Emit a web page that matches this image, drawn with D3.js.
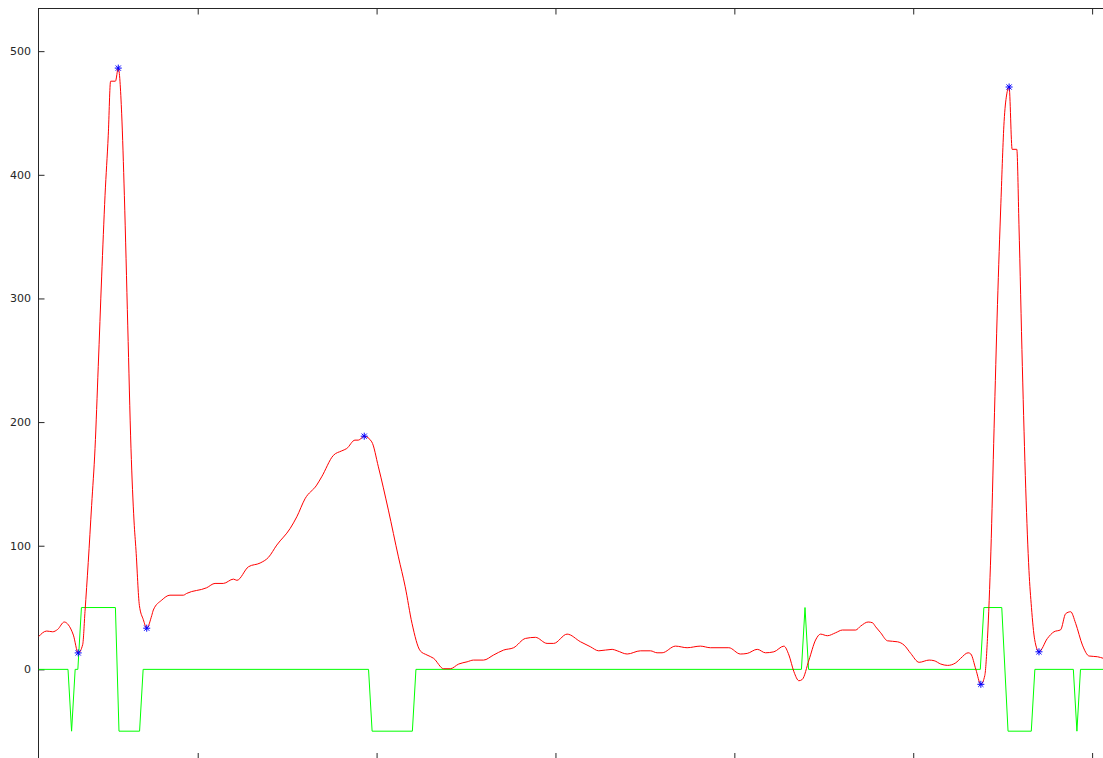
<!DOCTYPE html>
<html>
<head>
<meta charset="utf-8">
<script src="https://cdn.jsdelivr.net/npm/d3@7"></script>
<style>
  html, body { margin: 0; padding: 0; background: #ffffff; }
  svg { display: block; }
  .tick text { font-family: "DejaVu Sans", sans-serif; font-size: 11px; fill: #262626; }
</style>
</head>
<body>
<svg id="chart" width="1103" height="758"></svg>
<script>
// Filtered signal: [sample, amplitude]
const signalTrace = [
  [11,26.4],[15.6,31],[18.9,30.4],[21.7,32.3],[25.4,38.3],[27.7,36],[30.5,27.7],[33.2,13.3],
  [35.7,20],[37,46.8],[38.8,86.4],[40.7,132.6],[42.6,178.7],[44.4,244.8],[46.3,317.4],[48.2,383.4],
  [50,432],[51.3,475.7],[54,475.7],[55.6,486.3],[57.5,449.3],[59,383.4],[60.9,277.8],[62.7,178.9],
  [64.4,120],[65.5,96.4],[67.4,51.7],[69.6,40.2],[71.5,33.3],[74.3,43.5],[75.2,48],[79.9,56],
  [84.5,60],[92,60],[93.8,61.4],[105,66],[109.7,69.5],[114.3,69.5],[120,73],[121.9,72],
  [128.4,83],[134.9,86],[139.5,90.5],[144.2,100.5],[151.7,114],[155.4,123.4],[160,138],[166.5,149],
  [169.3,155.7],[175.8,173],[180.5,176.7],[183.3,178.6],[187.9,185.4],[189.8,185.4],[193.1,188.6],
  [197.3,184],[201,163.8],[206.6,128.8],[212.2,91],[216,66.8],[219.8,37.2],[224.4,15],[228.2,11.6],
  [231.9,8.9],[237.5,0.5],[241.2,0.5],[245.9,4.3],[250.6,6.1],[254.2,7.5],[259.8,7.5],[265.4,11.6],
  [271,15.6],[276.6,17.5],[283.2,25],[288.8,25.9],[295.3,21],[299,21],[306.5,28.5],[314,22.3],
  [319.5,18.3],[324.2,15],[331.7,16.2],[334.5,15],[340.1,12.4],[347.5,15],[353.1,15],[356.8,13.4],
  [359.6,13.4],[367.1,18.8],[373.6,17.5],[381,18.8],[386.6,17.5],[396.9,17.5],[403.4,12.4],
  [407.2,12.9],[412.8,16.2],[417.4,13.4],[422.1,14.2],[427.7,18.8],[430.5,11.6],[433.3,-1.9],
  [436.1,-9.2],[438,-8.1],[441.7,7.5],[445.4,23.7],[448.2,28.5],[452,27.2],[456.6,29.6],[460.4,31.8],
  [467.8,31.8],[470.6,35],[474.8,38.3],[477.2,37.7],[479,34.4],[481.8,29.6],[485.6,23.1],[491.2,22.3],
  [494.9,19.6],[498.6,12.9],[503.3,5.7],[508.9,7.5],[511.7,7],[515.4,4.3],[519.2,3.2],[523.8,5.3],
  [526.5,8.9],[530.7,13.4],[532.2,12.4],[535,0],[537.8,-12.1],[540,-5],[541.5,25],[543.4,95],
  [545.2,195],[547.1,295],[549,377],[550.8,443],[552.2,464.5],[553.6,471],[555.3,420.6],[557.9,420.6],
  [559.1,360],[561,245],[562.9,146],[564.7,80],[566.1,50],[567.9,24],[570.3,14.2],[575,25],
  [578.7,30.4],[582.4,32],[585.2,45],[588,46.6],[590.8,37.2],[594.6,19.6],[598.3,10.8],[603,10.2],
  [606.3,8.9]
];

// Detector state: [sample, level]
const stateTrace = [
  [11,0],[27.5,0],[29.5,-50],[31.5,0],[33,0],[35,50],[54,50],[56,-50],[67.5,-50],[69.5,0],
  [195.5,0],[197.5,-50],[220,-50],[222,0],[437.5,0],[439.5,50],[441.5,0],[537.5,0],[539.5,50],
  [549.5,50],[553,-50],[566,-50],[568,0],[589.5,0],[591.5,-50],[593.5,0],[607,0]
];

// Samples flagged as fiducial points on the signal
const fiducialSamples = [33.2, 55.6, 71.5, 193.1, 537.8, 553.6, 570.3];

const xTicks = [100, 200, 300, 400, 500, 600];
const yTicks = [0, 100, 200, 300, 400, 500];

const svg = d3.select("#chart");
const plotLeft = 38.5, plotTop = 8.5, plotRight = 1110, plotBottom = 759;

const x = d3.scaleLinear().domain([11, 610]).range([plotLeft, plotRight]);
const y = d3.scaleLinear().domain([-72.5, 534.5]).range([plotBottom, plotTop]);

svg.append("defs").append("clipPath").attr("id", "plotClip")
  .append("rect").attr("x", plotLeft).attr("y", plotTop)
  .attr("width", plotRight - plotLeft).attr("height", plotBottom - plotTop);

// frame
svg.append("rect")
  .attr("x", plotLeft).attr("y", plotTop)
  .attr("width", plotRight - plotLeft).attr("height", plotBottom - plotTop)
  .attr("fill", "none").attr("stroke", "#262626").attr("stroke-width", 1);

function styleAxis(g) {
  g.select(".domain").remove();
  g.selectAll(".tick line").attr("stroke", "#262626");
}

svg.append("g").attr("transform", `translate(${plotLeft},0)`)
  .call(d3.axisLeft(y).tickValues(yTicks).tickSizeInner(-6).tickSizeOuter(0).tickPadding(7.5).tickFormat(d3.format("d")))
  .call(styleAxis);
svg.append("g").attr("transform", `translate(${plotRight},0)`)
  .call(d3.axisRight(y).tickValues(yTicks).tickSizeInner(-6).tickSizeOuter(0).tickFormat(""))
  .call(styleAxis);
svg.append("g").attr("transform", `translate(0,${plotTop})`)
  .call(d3.axisTop(x).tickValues(xTicks).tickSizeInner(-6).tickSizeOuter(0).tickFormat(""))
  .call(styleAxis);
svg.append("g").attr("transform", `translate(0,${plotBottom})`)
  .call(d3.axisBottom(x).tickValues(xTicks).tickSizeInner(-6).tickSizeOuter(0).tickFormat(""))
  .call(styleAxis);

const plot = svg.append("g").attr("clip-path", "url(#plotClip)");

const stateLine = d3.line().x(d => x(d[0])).y(d => y(d[1]));
plot.append("path").datum(stateTrace)
  .attr("d", stateLine)
  .attr("fill", "none").attr("stroke", "#00ff00").attr("stroke-width", 1);

const signalLine = d3.line().x(d => x(d[0])).y(d => y(d[1])).curve(d3.curveMonotoneX);
plot.append("path").datum(signalTrace)
  .attr("d", signalLine)
  .attr("fill", "none").attr("stroke", "#ff0000").attr("stroke-width", 1);

// asterisk markers placed on the signal at the flagged samples
const fiducials = fiducialSamples.map(s => signalTrace.find(p => Math.abs(p[0] - s) < 1e-6));
const r = 3.5, rd = 2.6;
const mk = plot.selectAll("g.mk").data(fiducials).enter().append("g")
  .attr("class", "mk")
  .attr("transform", d => `translate(${x(d[0])},${y(d[1])})`)
  .attr("stroke", "#0000ff").attr("stroke-width", 1);
mk.append("line").attr("x1", -r).attr("x2", r).attr("y1", 0).attr("y2", 0);
mk.append("line").attr("x1", 0).attr("x2", 0).attr("y1", -r).attr("y2", r);
mk.append("line").attr("x1", -rd).attr("x2", rd).attr("y1", -rd).attr("y2", rd);
mk.append("line").attr("x1", -rd).attr("x2", rd).attr("y1", rd).attr("y2", -rd);
</script>
</body>
</html>
